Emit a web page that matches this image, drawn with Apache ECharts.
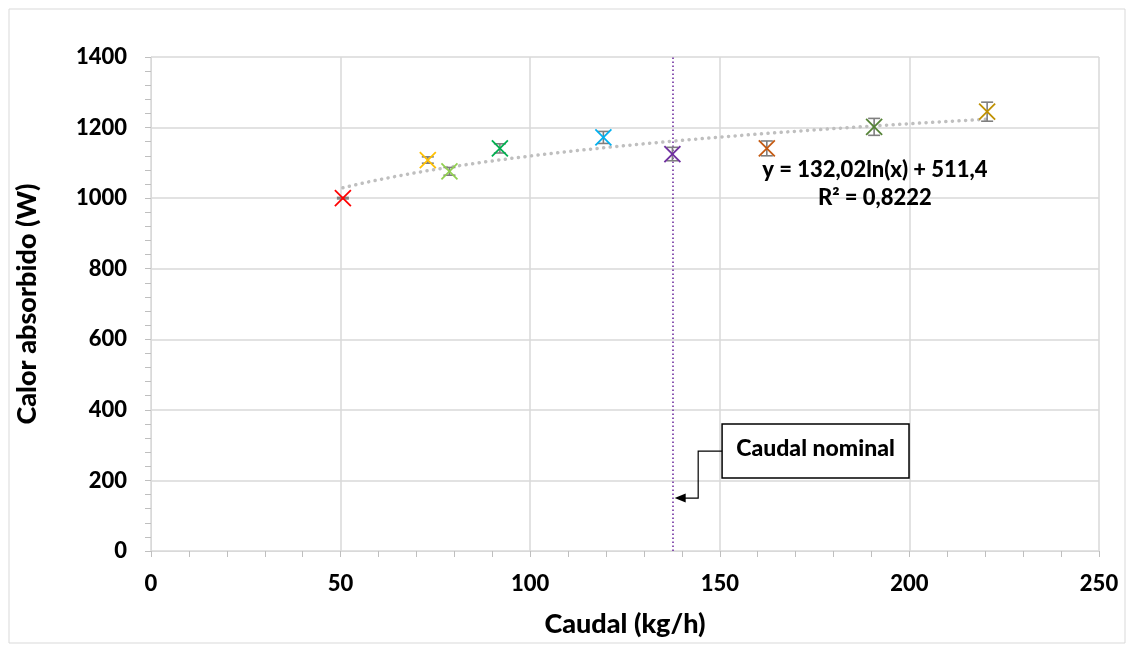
<!DOCTYPE html>
<html>
<head>
<meta charset="utf-8">
<script src="https://cdn.jsdelivr.net/npm/echarts@6/dist/echarts.min.js"></script>
<style>
  html, body { margin: 0; padding: 0; background: #fff; }
  #chart { width: 1134px; height: 651px; }
</style>
</head>
<body>
<div id="chart"></div>
<script>
// Measured points: flow rate (kg/h), absorbed heat (W) and its uncertainty (W)
const caudal = [50.6, 73.0, 78.7, 92.0, 119.3, 137.5, 162.4, 190.7, 220.5];
const calor = [1000, 1108, 1076, 1141, 1172, 1125, 1141, 1202, 1245];
const errorCalor = [2, 9, 11, 13, 17, 19, 21, 24, 27];

// Logarithmic fit y = a*ln(x) + b and its R²
const ajuste = [132.02, 511.4];
const r2 = 0.8222;
const ecuacion = ['y = 132,02ln(x) + 511,4', 'R² = 0,8222'];

// Nominal flow rate
const caudalNominal = 137.5;
const rotuloNominal = 'Caudal nominal';

const xTicks = [0, 50, 100, 150, 200, 250];
const yTicks = [0, 200, 400, 600, 800, 1000, 1200, 1400];

const palette = ['#FF0000', '#FFC000', '#92D050', '#00B050', '#00B0F0',
                 '#7030A0', '#C55A11', '#548235', '#BF9000'];

const FONT = 'Lato';

// Trendline samples across the measured range
const trend = [];
{
  const x0 = caudal[0], x1 = caudal[caudal.length - 1], n = 80;
  for (let i = 0; i <= n; i++) {
    const x = x0 + (x1 - x0) * i / n;
    trend.push([x, ajuste[0] * Math.log(x) + ajuste[1]]);
  }
}

const chart = echarts.init(document.getElementById('chart'));

const axisCommon = {
  axisLine: { show: true, lineStyle: { color: '#D9D9D9', width: 1 } },
  axisTick: { show: true, inside: false, length: 6, lineStyle: { color: '#BFBFBF' } },
  minorTick: { show: true, splitNumber: 5, length: 6, lineStyle: { color: '#BFBFBF' } },
  splitLine: { show: true, lineStyle: { color: '#D9D9D9', width: 1.5 } },
  axisLabel: { color: '#000', fontFamily: FONT, fontWeight: 900, fontSize: 22,
               formatter: v => String(v) },
  nameTextStyle: { color: '#000', fontFamily: FONT, fontWeight: 900, fontSize: 27 }
};

chart.setOption({
  animation: false,
  backgroundColor: '#fff',
  grid: { left: 151, right: 35, top: 57, bottom: 100, containLabel: false },
  xAxis: Object.assign({}, axisCommon, {
    type: 'value', min: xTicks[0], max: xTicks[xTicks.length - 1], interval: 50,
    name: 'Caudal (kg/h)', nameLocation: 'middle', nameGap: 60,
    axisLabel: Object.assign({}, axisCommon.axisLabel, { margin: 22 })
  }),
  yAxis: Object.assign({}, axisCommon, {
    type: 'value', min: yTicks[0], max: yTicks[yTicks.length - 1], interval: 200,
    name: 'Calor absorbido (W)', nameLocation: 'middle', nameGap: 110, nameRotate: 90,
    axisLabel: Object.assign({}, axisCommon.axisLabel, { margin: 24 })
  }),
  series: [
    {
      type: 'line',
      data: trend,
      symbol: 'none',
      lineStyle: { color: '#BFBFBF', width: 3.5, type: [0.1, 6.5], cap: 'round' },
      z: 2,
      markLine: {
        silent: true,
        symbol: ['none', 'none'],
        label: { show: false },
        lineStyle: { color: '#7030A0', width: 1.6, type: [1.5, 2.5] },
        data: [{ xAxis: caudalNominal }]
      }
    },
    {
      type: 'custom',
      z: 5,
      data: caudal.map((x, i) => [x, calor[i], errorCalor[i], i]),
      renderItem: function (params, api) {
        const c = api.coord([api.value(0), api.value(1)]);
        const top = api.coord([api.value(0), api.value(1) + api.value(2)]);
        const bot = api.coord([api.value(0), api.value(1) - api.value(2)]);
        const color = palette[api.value(3)];
        const h = 8, cap = 6;
        const barStyle = { stroke: '#7F7F7F', lineWidth: 1.6 };
        const xStyle = { stroke: color, lineWidth: 1.8 };
        return {
          type: 'group',
          children: [
            { type: 'line', shape: { x1: c[0], y1: top[1], x2: c[0], y2: bot[1] }, style: barStyle },
            { type: 'line', shape: { x1: c[0] - cap, y1: top[1], x2: c[0] + cap, y2: top[1] }, style: barStyle },
            { type: 'line', shape: { x1: c[0] - cap, y1: bot[1], x2: c[0] + cap, y2: bot[1] }, style: barStyle },
            { type: 'line', shape: { x1: c[0] - h, y1: c[1] - h, x2: c[0] + h, y2: c[1] + h }, style: xStyle },
            { type: 'line', shape: { x1: c[0] - h, y1: c[1] + h, x2: c[0] + h, y2: c[1] - h }, style: xStyle }
          ]
        };
      }
    }
  ]
});

// Annotations placed in data coordinates
const px = (x, y) => chart.convertToPixel({ gridIndex: 0 }, [x, y]);
const eq1 = px(190.9, 1080);
const eq2 = px(190.9, 1000);
const boxA = px(150.6, 360);
const boxB = px(199.9, 207);
const conn0 = px(150.6, 283);
const connElbowX = px(144.3, 283)[0];
const tip = px(caudalNominal + 0.6, 150);

const textStyleEq = { fill: '#000', font: '900 22px ' + FONT, textAlign: 'center', textVerticalAlign: 'middle' };

chart.setOption({
  graphic: [
    { type: 'rect', shape: { x: 9, y: 9, width: 1116, height: 634 }, style: { fill: 'none', stroke: '#D9D9D9', lineWidth: 1 }, z: 0, silent: true },
    { type: 'text', x: eq1[0], y: eq1[1], style: Object.assign({ text: ecuacion[0] }, textStyleEq), z: 10 },
    { type: 'text', x: eq2[0], y: eq2[1], style: Object.assign({ text: ecuacion[1] }, textStyleEq), z: 10 },
    { type: 'rect', shape: { x: boxA[0], y: boxA[1], width: boxB[0] - boxA[0], height: boxB[1] - boxA[1] },
      style: { fill: '#fff', stroke: '#000', lineWidth: 1.5 }, z: 10 },
    { type: 'text', x: (boxA[0] + boxB[0]) / 2, y: (boxA[1] + boxB[1]) / 2 - 2,
      style: Object.assign({ text: rotuloNominal }, textStyleEq, { font: '900 23px ' + FONT }), z: 11 },
    { type: 'polyline', shape: { points: [[conn0[0], conn0[1]], [connElbowX, conn0[1]], [connElbowX, tip[1]], [tip[0] + 10, tip[1]]] },
      style: { stroke: '#000', lineWidth: 1.2, fill: null }, z: 10 },
    { type: 'polygon', shape: { points: [[tip[0], tip[1]], [tip[0] + 11, tip[1] - 4.5], [tip[0] + 11, tip[1] + 4.5]] },
      style: { fill: '#000' }, z: 10 }
  ]
});
</script>
</body>
</html>
